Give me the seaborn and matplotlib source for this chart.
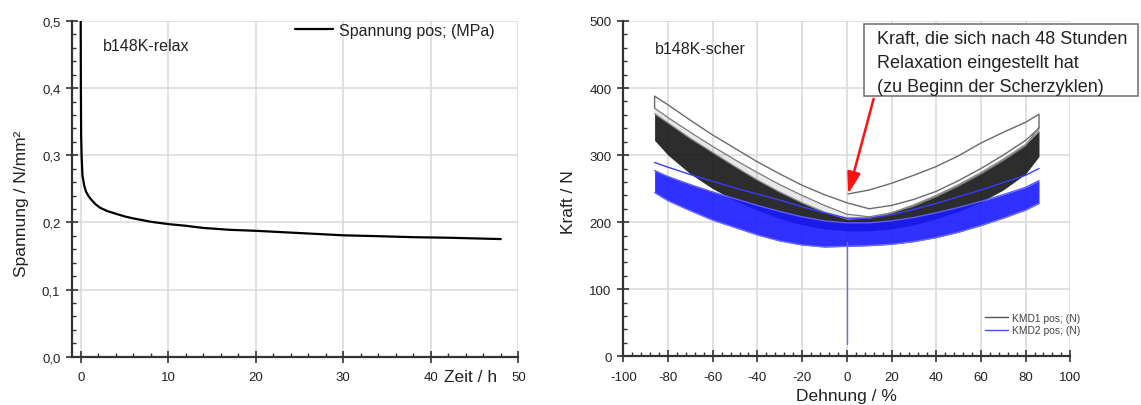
import matplotlib
matplotlib.use("Agg")
import matplotlib.pyplot as plt
import matplotlib.ticker as mticker
from matplotlib.lines import Line2D
from matplotlib.patches import Rectangle
import seaborn as sns
import pandas as pd

# ---------------- data ----------------
# left: relaxation
zeit_h = [0, 0.02, 0.05, 0.1, 0.2, 0.4, 0.6, 0.9, 1.2, 1.7, 2.2, 3, 4, 5, 6, 8, 10,
          12, 14, 17, 20, 23, 26, 30, 34, 38, 42, 45, 48]
spannung = [0.5, 0.40, 0.33, 0.30, 0.27, 0.255, 0.246, 0.239, 0.234, 0.227, 0.222,
            0.217, 0.213, 0.209, 0.206, 0.201, 0.1975, 0.195, 0.1918, 0.189, 0.1875,
            0.1855, 0.1835, 0.1808, 0.1795, 0.178, 0.1772, 0.1762, 0.1752]

# right: shear cycles (envelopes of the dense loop bands + single outlined cycles)
dehnung = [-86, -80, -70, -60, -50, -40, -30, -20, -10, 0, 10, 20, 30, 40, 50, 60, 70, 80, 86]
kmd1_upper = [362, 348, 325, 304, 283, 263, 245, 229, 215, 205, 206, 214, 226, 240, 256, 274, 294, 316, 336]
kmd1_lower = [322, 300, 272, 250, 232, 218, 205, 196, 190, 187, 187, 190, 196, 205, 216, 230, 248, 272, 298]
kmd2_upper = [277, 268, 256, 245, 235, 225, 216, 208, 202, 199, 199, 202, 207, 214, 222, 231, 241, 252, 262]
kmd2_lower = [244, 232, 217, 203, 192, 181, 172, 166, 163, 164, 165, 167, 171, 177, 185, 195, 206, 218, 228]

cyc1_x = [0.5, 10, 20, 30, 40, 50, 60, 70, 80, 86, 86, 80, 70, 60, 50, 40, 30, 20, 10, 0,
          -10, -20, -30, -40, -50, -60, -70, -80, -86, -86]
cyc1_y = [242, 248, 258, 270, 283, 299, 318, 334, 349, 361, 340, 322, 300, 280, 262, 246, 234,
          225, 220, 229, 241, 255, 272, 290, 310, 330, 352, 375, 388, 370]
cyc2_y = [370, 356, 334, 313, 293, 274, 256, 240, 225, 212, 208, 214, 224, 238, 254, 272, 292, 314, 342]
kmd2_cyc_y = [289, 282, 271, 261, 251, 242, 233, 223, 214, 206, 206, 211, 219, 228, 238, 248, 259, 270, 280]
spike_x = [0, 0]
spike_y = [170, 18]

# ---------------- style ----------------
sns.set_style("white")
plt.rcParams["font.family"] = ["Liberation Sans", "DejaVu Sans"]
plt.rcParams["axes.unicode_minus"] = False

W, H = 1141, 406
fig = plt.figure(figsize=(W / 100, H / 100), dpi=100)
axL = fig.add_axes([72.3 / W, 1 - 357.7 / H, (518.3 - 72.3) / W, (357.7 - 22) / H])
axR = fig.add_axes([623.3 / W, 1 - 357.3 / H, (1070.3 - 623.3) / W, (357.3 - 22) / H])

spine_c = "#333333"
grid_c = "#d9d9d9"
txt_c = "#222222"


def style_axis(ax):
    for s in ("top", "right"):
        ax.spines[s].set_visible(False)
    for s in ("left", "bottom"):
        ax.spines[s].set_color(spine_c)
        ax.spines[s].set_linewidth(1.6)
    ax.grid(True, which="major", color=grid_c, linewidth=1.1)
    ax.set_axisbelow(True)
    ax.tick_params(which="major", direction="inout", length=9, width=1.2,
                   color=spine_c, labelsize=9.5, labelcolor=txt_c, pad=4)
    ax.tick_params(which="minor", direction="in", length=3, width=1.0, color=spine_c)
    ax.tick_params(axis="y", which="both", left=True)
    ax.tick_params(axis="x", which="both", bottom=True)


# ---------- left panel ----------
df_rel = pd.DataFrame({"t": zeit_h, "s": spannung})
sns.lineplot(data=df_rel, x="t", y="s", ax=axL, color="black", linewidth=1.6,
             estimator=None, sort=False, label="Spannung pos; (MPa)")
axL.set_xlim(-0.96, 50)
axL.set_ylim(0, 0.5)
axL.xaxis.set_major_locator(mticker.MultipleLocator(10))
axL.xaxis.set_minor_locator(mticker.MultipleLocator(2))
axL.yaxis.set_major_locator(mticker.MultipleLocator(0.1))
axL.yaxis.set_minor_locator(mticker.MultipleLocator(0.02))
axL.yaxis.set_major_formatter(mticker.FuncFormatter(lambda v, p: f"{v:.1f}".replace(".", ",")))
style_axis(axL)
axL.tick_params(axis="x", pad=6)
axL.set_xlabel("Zeit / h", fontsize=12.5, color=txt_c)
axL.xaxis.label.set_va("center")
axL.xaxis.set_label_coords(0.894, -0.058)
axL.set_ylabel("Spannung / N/mm²", fontsize=12.5, color=txt_c)
axL.yaxis.label.set_va("center")
axL.yaxis.set_label_coords(-0.113, 0.458)
axL.text(0.0684, 0.926, "b148K-relax", transform=axL.transAxes, fontsize=11.5,
         color=txt_c, ha="left", va="center")
axL.legend(loc="upper left", bbox_to_anchor=(0.499, 0.995), frameon=False,
           borderpad=0, borderaxespad=0, handlelength=2.4, handletextpad=0.35,
           fontsize=11.5, labelcolor=txt_c)

# ---------- right panel ----------
axR.fill_between(dehnung, kmd1_lower, kmd1_upper, color="#101010", alpha=0.88,
                 linewidth=0, zorder=2)
axR.fill_between(dehnung, kmd1_upper, cyc2_y, color="#808080", alpha=0.18,
                 linewidth=0, zorder=2)
df_c1 = pd.DataFrame({"x": cyc1_x, "y": cyc1_y})
sns.lineplot(data=df_c1, x="x", y="y", ax=axR, color="#6a6a6a", linewidth=1.0,
             estimator=None, sort=False, zorder=3)
df_c2 = pd.DataFrame({"x": dehnung, "y": cyc2_y})
sns.lineplot(data=df_c2, x="x", y="y", ax=axR, color="#7a7a7a", linewidth=0.9,
             estimator=None, sort=False, zorder=3)
df_u = pd.DataFrame({"x": dehnung, "y": kmd1_upper})
sns.lineplot(data=df_u, x="x", y="y", ax=axR, color="#8c8c8c", linewidth=0.9,
             estimator=None, sort=False, zorder=3)

axR.fill_between(dehnung, kmd2_lower, kmd2_upper, color="#1a1aff", alpha=0.9,
                 linewidth=0, zorder=4)
df_bu = pd.DataFrame({"x": dehnung, "y": kmd2_upper})
sns.lineplot(data=df_bu, x="x", y="y", ax=axR, color="#5c5cff", linewidth=1.0,
             estimator=None, sort=False, zorder=4)
df_bl = pd.DataFrame({"x": dehnung, "y": kmd2_lower})
sns.lineplot(data=df_bl, x="x", y="y", ax=axR, color="#6c6cff", linewidth=1.0,
             estimator=None, sort=False, zorder=4)
df_b = pd.DataFrame({"x": dehnung, "y": kmd2_cyc_y})
sns.lineplot(data=df_b, x="x", y="y", ax=axR, color="#3a3aff", linewidth=1.0,
             estimator=None, sort=False, zorder=5)
df_s = pd.DataFrame({"x": spike_x, "y": spike_y})
sns.lineplot(data=df_s, x="x", y="y", ax=axR, color="#6a6aff", linewidth=1.0,
             estimator=None, sort=False, zorder=5)

axR.set_xlim(-100, 100)
axR.set_ylim(0, 500)
axR.xaxis.set_major_locator(mticker.MultipleLocator(20))
axR.xaxis.set_minor_locator(mticker.MultipleLocator(4))
axR.yaxis.set_major_locator(mticker.MultipleLocator(100))
axR.yaxis.set_minor_locator(mticker.MultipleLocator(20))
style_axis(axR)
axR.tick_params(axis="x", pad=6)
axR.set_xlabel("Dehnung / %", fontsize=12.5, color=txt_c)
axR.xaxis.label.set_va("center")
axR.xaxis.set_label_coords(0.5, -0.1175)
axR.set_ylabel("Kraft / N", fontsize=12.5, color=txt_c)
axR.yaxis.label.set_va("center")
axR.yaxis.set_label_coords(-0.1215, 0.463)
axR.text(0.07, 0.9165, "b148K-scher", transform=axR.transAxes, fontsize=11.5,
         color=txt_c, ha="left", va="center")

handles = [Line2D([], [], color="#555555", linewidth=1.0),
           Line2D([], [], color="#4a4aff", linewidth=1.0)]
axR.legend(handles, ["KMD1 pos; (N)", "KMD2 pos; (N)"], loc="upper left",
           bbox_to_anchor=(0.809, 0.13), frameon=False, borderpad=0, borderaxespad=0,
           handlelength=2.2, handletextpad=0.4, labelspacing=0.25, fontsize=7.4,
           labelcolor="#444444")

# annotation arrow + box
axR.annotate("", xy=(0.6, 242), xytext=(12, 384),
             arrowprops=dict(arrowstyle="-|>,head_length=0.65,head_width=0.2",
                             color="#ff1010", lw=1.8, mutation_scale=20,
                             shrinkA=0, shrinkB=0), zorder=6)
fig.patches.append(Rectangle((864 / W, 1 - 97 / H), (1138 - 864) / W, (97 - 25) / H,
                             transform=fig.transFigure, facecolor="white",
                             edgecolor="#777777", linewidth=1.2, zorder=5))
fig.text(877 / W, 1 - 31 / H,
         "Kraft, die sich nach 48 Stunden\nRelaxation eingestellt hat\n(zu Beginn der Scherzyklen)",
         fontsize=13, color=txt_c, ha="left", va="top", linespacing=1.55, zorder=6)

fig.savefig("out.png", dpi=100)
